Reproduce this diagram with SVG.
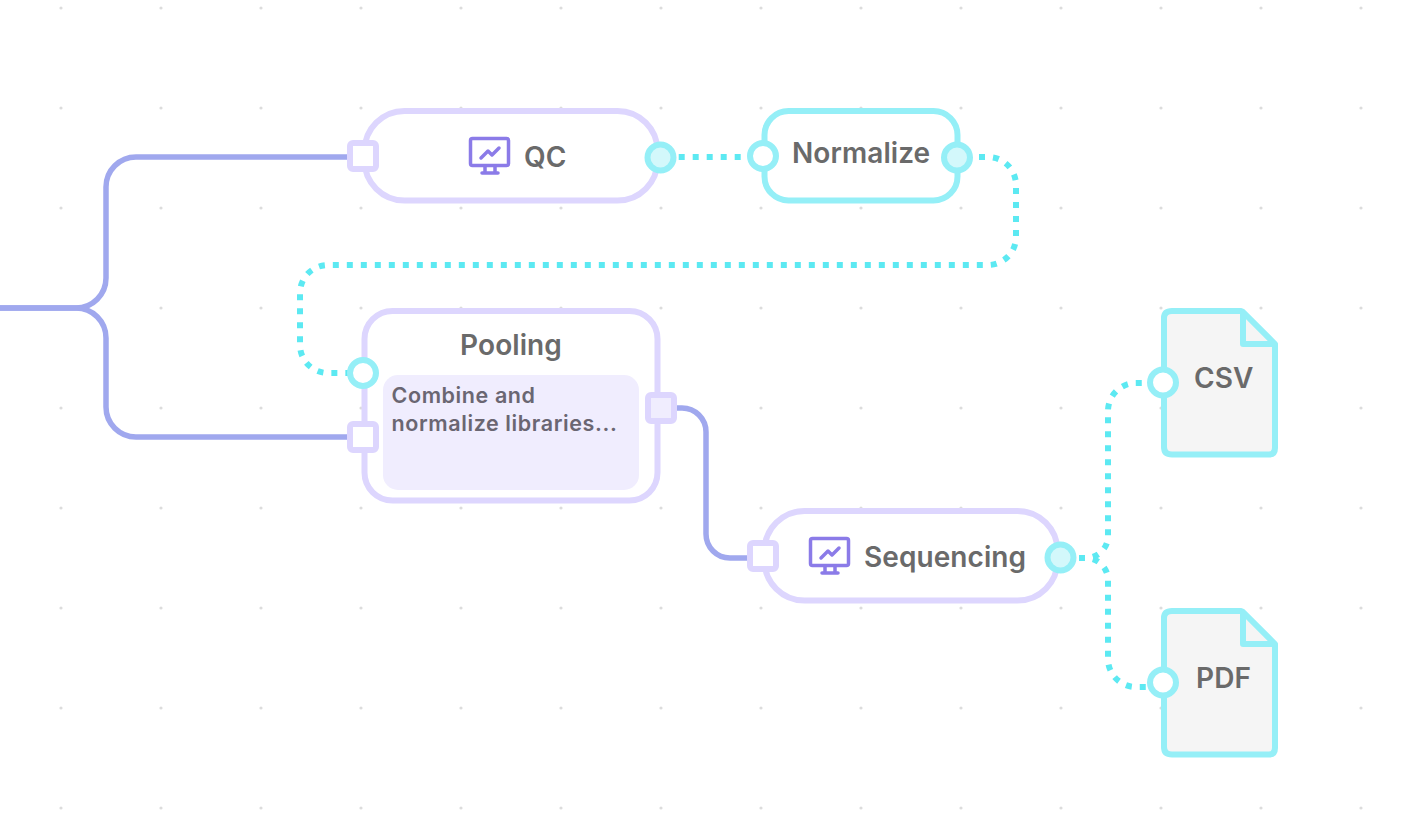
<svg xmlns="http://www.w3.org/2000/svg" width="1424" height="828" viewBox="0 0 1424 828">
<style>
text{font-family:Inter,"Liberation Sans",sans-serif;font-weight:600;fill:#6a6a6a;font-size:28px;letter-spacing:.08px}
.body{fill:#fff;stroke:#ddd6fe;stroke-width:6}
.cy{fill:#fff;stroke:#95eff7;stroke-width:6}
.doc{fill:#f5f5f5;stroke:#95eff7;stroke-width:6;stroke-linejoin:round}
.pq{fill:#fff;stroke:#ddd6fe;stroke-width:6}
.solid{fill:none;stroke:#a0a8ee;stroke-width:5.500}
.dot{fill:none;stroke:#5ce9f2;stroke-width:6;stroke-dasharray:6 8}
.po{fill:#fff;stroke:#95eff7;stroke-width:6}
.pf{fill:#d3f8fb;stroke:#95eff7;stroke-width:6}
.ic{fill:none;stroke:#8b7be8;stroke-width:3.500;stroke-linejoin:round;stroke-linecap:round}
text.desc{font-size:21.500px;fill:#6a6672;font-weight:600;letter-spacing:.6px}
</style>
<defs>
<pattern id="grid" x="11" y="8" width="100" height="100" patternUnits="userSpaceOnUse"><circle cx="50" cy="0" r="1.6" fill="#dcdcdc"/><circle cx="50" cy="100" r="1.6" fill="#dcdcdc"/></pattern>
<g id="mon">
<rect x="1.500" y="1.500" width="38" height="27" rx="2" class="ic"/>
<path d="M12 21L19 14L23 18L30 11M13 36H29M16 29V36M26 29V36" class="ic"/>
</g>
</defs>
<rect id="background" width="1424" height="828" fill="#fff"/>
<rect id="dots" width="1424" height="828" fill="url(#grid)"/>
<g id="connectors">
<path class="solid" d="M0 308H76A30 30 0 0 0 106 278V187A30 30 0 0 1 136 157H350"/>
<path class="solid" d="M0 308H76A30 30 0 0 1 106 338V407A30 30 0 0 0 136 437H350"/>
<path class="solid" d="M676 408H682A24 24 0 0 1 706 432V534A24 24 0 0 0 730 558H750"/>
<path class="dot" d="M678.700 157H750"/>
<path class="dot" d="M979 157H988A28 28 0 0 1 1016 185V237A28 28 0 0 1 988 265H328A28 28 0 0 0 300 293V345A28 28 0 0 0 328 373H350"/>
<path class="dot" d="M1079 558H1086A22 22 0 0 0 1108 536V411A28 28 0 0 1 1136 383H1150"/>
<path class="dot" d="M1079 558H1086A22 22 0 0 1 1108 580V659A28 28 0 0 0 1136 687H1150"/>
</g>
<g id="node-qc">
<rect class="body" x="364.500" y="111" width="293" height="89.500" rx="40"/>
<use href="#mon" x="469" y="137"/>
<text x="524" y="167">QC</text>
<rect class="pq" x="350" y="143" width="26" height="26" rx="3"/>
<circle class="pf" cx="660.500" cy="157.500" r="13"/>
</g>
<g id="node-normalize">
<rect class="cy" x="764.500" y="111" width="193" height="89.500" rx="24"/>
<text x="792" y="163">Normalize</text>
<circle class="po" cx="763" cy="156" r="13"/>
<circle class="pf" cx="957" cy="157.500" r="13"/>
</g>
<g id="node-pooling">
<rect class="body" x="364.500" y="311" width="293" height="189.500" rx="28"/>
<text x="511" y="355" text-anchor="middle">Pooling</text>
<rect x="383" y="375" width="256" height="115" rx="15" fill="#f0edfe"/>
<text class="desc" x="391.500" y="403">Combine and</text>
<text class="desc" x="391.500" y="430.500">normalize libraries...</text>
<circle class="po" cx="363" cy="373" r="13"/>
<rect class="pq" x="350" y="424" width="26" height="26" rx="3"/>
<rect class="pq" x="648" y="395" width="26" height="26" rx="3" style="fill:#f0edfe"/>
</g>
<g id="node-sequencing">
<rect class="body" x="764.500" y="511" width="293" height="89.500" rx="40"/>
<use href="#mon" x="809" y="537"/>
<text x="864" y="567">Sequencing</text>
<rect class="pq" x="750" y="543" width="26" height="26" rx="3"/>
<circle class="pf" cx="1060.500" cy="557.500" r="13"/>
</g>
<g id="node-csv">
<path class="doc" d="M1172 311H1241L1275 345V448Q1275 454.500 1269 454.500H1172Q1164 454.500 1164 447V318Q1164 311 1172 311Z"/>
<path class="doc" d="M1243 312V344H1275Z"/>
<text x="1194" y="388">CSV</text>
<circle class="po" cx="1163" cy="382.500" r="13"/>
</g>
<g id="node-pdf">
<path class="doc" d="M1172 611H1241L1275 645V748Q1275 754.500 1269 754.500H1172Q1164 754.500 1164 747V618Q1164 611 1172 611Z"/>
<path class="doc" d="M1243 612V644H1275Z"/>
<text x="1196" y="688">PDF</text>
<circle class="po" cx="1163" cy="682.500" r="13"/>
</g>
</svg>
